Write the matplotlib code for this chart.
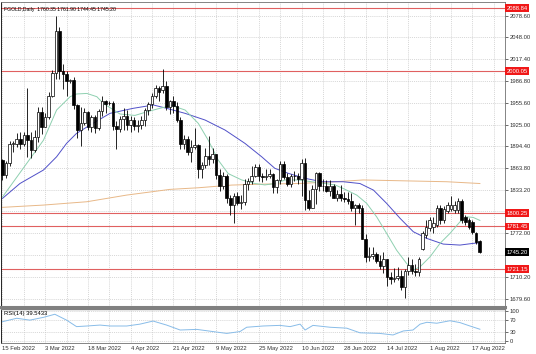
import matplotlib
matplotlib.use("Agg")
import matplotlib.pyplot as plt
from matplotlib.patches import Rectangle
from matplotlib.transforms import blended_transform_factory

# ---------------- data ----------------
opens = [1875,1854,1871,1898,1898,1905,1898,1910,1903,1889,
         1908,1943,1922,1936,1966,1998,2057,2000,1997,1987,
         1988,1952,1918,1927,1943,1921,1936,1920,1944,1958,
         1955,1956,1923,1919,1933,1937,1925,1932,1923,1925,
         1931,1946,1954,1966,1977,1974,1979,1950,1958,1951,
         1932,1898,1905,1887,1894,1896,1863,1868,1881,1877,
         1883,1854,1838,1853,1821,1811,1824,1815,1816,1841,
         1846,1853,1865,1853,1851,1853,1855,1837,1847,1869,
         1851,1841,1852,1853,1848,1871,1819,1808,1834,1857,
         1839,1838,1832,1838,1822,1827,1822,1820,1818,1807,
         1811,1808,1764,1739,1740,1742,1733,1725,1735,1710,
         1708,1709,1711,1696,1718,1727,1719,1717,1750,1769,
         1779,1780,1783,1808,1790,1803,1806,1805,1805,1818,
         1795,1790,1788,1772,1760.35]
highs = [1877,1874,1902,1902,1913,1914,1914,1976,1914,1917,
         1950,1950,1942,1971,2002,2078,2062,2010,2000,1990,
         1992,1954,1950,1948,1944,1939,1938,1947,1966,1960,
         1958,1959,1930,1937,1949,1945,1937,1936,1932,1937,
         1948,1957,1970,1981,1979,2003,1987,1960,1966,1957,
         1936,1911,1909,1904,1920,1898,1873,1892,1909,1892,
         1883,1862,1858,1856,1826,1828,1830,1826,1849,1850,
         1866,1869,1869,1857,1863,1862,1857,1849,1874,1874,
         1857,1856,1860,1857,1876,1878,1833,1840,1858,1858,
         1848,1847,1847,1841,1833,1840,1830,1830,1829,1813,
         1814,1812,1771,1752,1752,1745,1741,1745,1735,1717,
         1723,1724,1720,1721,1739,1736,1728,1739,1775,1790,
         1795,1795,1812,1812,1810,1816,1824,1818,1822,1820,
         1797,1793,1790,1774,1761.90]
lows = [1847,1850,1867,1886,1894,1890,1895,1879,1878,1886,
        1900,1912,1921,1933,1964,1990,1990,1975,1965,1983,
        1947,1906,1895,1924,1917,1915,1913,1918,1937,1942,
        1952,1918,1890,1915,1918,1917,1915,1917,1915,1919,
        1923,1939,1948,1962,1959,1969,1945,1940,1941,1929,
        1891,1890,1882,1872,1890,1850,1850,1864,1868,1871,
        1848,1832,1834,1814,1797,1787,1811,1806,1811,1833,
        1842,1851,1846,1844,1847,1850,1829,1828,1842,1849,
        1838,1837,1846,1842,1825,1805,1805,1807,1813,1832,
        1832,1830,1825,1821,1817,1818,1816,1813,1803,1784,
        1801,1764,1732,1733,1735,1730,1722,1716,1697,1701,
        1703,1706,1692,1680,1713,1715,1711,1711,1748,1765,
        1775,1772,1780,1785,1786,1800,1803,1800,1800,1787,
        1783,1778,1771,1757,1744.45]
closes = [1854,1871,1898,1898,1905,1898,1910,1903,1889,1908,
          1943,1922,1936,1966,1998,2057,2000,1997,1986,1988,
          1952,1918,1927,1943,1921,1936,1920,1944,1958,1954,
          1956,1923,1919,1933,1937,1925,1932,1923,1925,1931,
          1946,1954,1966,1977,1971,1979,1950,1958,1951,1932,
          1898,1905,1887,1894,1896,1863,1868,1881,1877,1883,
          1854,1838,1853,1821,1811,1824,1815,1816,1841,1846,
          1853,1865,1853,1851,1853,1855,1837,1847,1869,1851,
          1841,1852,1853,1848,1871,1819,1808,1834,1857,1839,
          1838,1832,1838,1822,1827,1822,1820,1818,1807,1811,
          1808,1764,1739,1740,1742,1733,1725,1735,1710,1708,
          1709,1711,1696,1718,1727,1719,1717,1735,1772,1781,
          1790,1787,1808,1790,1806,1811,1812,1811,1818,1790,
          1788,1781,1774,1760,1745.20]

ma_fast_x = [0,11.5,15.2,19,20.8,23.7,26.5,28.3,33,37.2,40.5,44.2,47.5,51.3,55,57.8,60.6,63.4,
             67.2,70.9,73.7,76.5,79.4,83.1,86.9,90.6,93.4,95.7,99.5,102.3,105.1,107.9,110.7,
             113.5,115.4,117.3,120.1,122.9,125.7,128.5,130.4,132.2,134.1]
ma_fast_y = [1823,1903,1945.6,1964.4,1968.2,1969,1964.4,1955,1940,1938,1943,1948,1952,1945.6,1926.8,
             1903,1875,1856,1847,1842,1840,1842,1847,1847,1844.5,1842,1840,1835,1825.7,1814,1795,
             1771.7,1748,1729.4,1720,1724.6,1738.7,1757.6,1771.7,1788,1795,1794.2,1790]
ma_mid_x = [0,4.9,11.5,15.2,18,20.8,24.6,30.2,36.7,42.4,46.1,51.3,56.9,62.5,68.1,72.8,76.5,80.3,
            85,89.7,95.7,100.4,104.2,107.9,111.7,115.4,119.2,123.8,128.5,132.2,134.1]
ma_mid_y = [1821,1842,1861,1879.7,1898.6,1912.7,1924.4,1940.9,1948,1952.7,1948,1940.9,1931.5,
            1917.4,1898.6,1879.7,1863.4,1856.3,1849.3,1844.5,1844.5,1842,1832.7,1814,1792.8,1774,
            1764.6,1756.6,1755.2,1757.6,1758.5]
ma_slow_x = [0,11.5,23.7,34.9,47,55,64.4,73.7,83.1,93.4,101.3,115.4,124.8,134.1]
ma_slow_y = [1808.4,1811.6,1816.3,1825.7,1833.7,1836,1839.8,1841.2,1842,1844.5,1847,1845.5,
             1844.5,1842]

rsi_x = [0,4,7.7,11.5,14.7,18,20.8,23.7,27.4,30.2,34.9,38.6,42.3,46.1,49.9,54.6,59.1,63,66.7,
         68.6,73.2,77.9,80.8,83.6,85,87.2,92,96.7,100.4,106,109.7,112.6,115.3,117.3,119.2,122,
         125.7,128.5,131.3,134.1]
rsi_y = [64,75,69,78,88,69,48,50,53,50,50,56,66,53,37,39,32,26,32,46,50,52,48,56,37,52,46,43,
         28,26,21,34,37,56,62,59,67,61,50,39.5433]

level_prices = [2088.84, 2000.05, 1800.25, 1781.45, 1721.15]
level_labels = ["2088.84", "2000.05", "1800.25", "1781.45", "1721.15"]
price_ticks = [2078.60, 2048.00, 2017.40, 1986.80, 1955.60, 1925.00, 1894.40, 1863.80,
               1833.20, 1802.60, 1772.00, 1741.40, 1710.20, 1679.60]
hidden_ticks = [1802.60, 1741.40]   # covered by the price boxes in the reference
date_tick_pos = [0, 12, 24, 36, 48, 60, 72, 84, 96, 108, 120, 132]
date_labels = ["15 Feb 2022", "3 Mar 2022", "18 Mar 2022", "4 Apr 2022", "21 Apr 2022",
               "9 May 2022", "25 May 2022", "10 Jun 2022", "28 Jun 2022", "14 Jul 2022",
               "1 Aug 2022", "17 Aug 2022"]
rsi_ticks = [100, 70, 30, 0]
title_text = "FGOLD,Daily  1760.35 1761.90 1744.45 1745.20"
rsi_title = "RSI(14) 39.5433"
last_price = 1745.20

# ---------------- figure ----------------
plt.rcParams['font.family'] = ['Liberation Sans', 'DejaVu Sans']
FS = 4.2
W, H = 536, 354
fig = plt.figure(figsize=(W / 100, H / 100), dpi=100)

def frac(x0, y0, x1, y1):
    return [x0 / W, 1 - y1 / H, (x1 - x0) / W, (y1 - y0) / H]

ax = fig.add_axes(frac(1, 2, 505, 307))
axr = fig.add_axes(frac(1, 309, 505, 343), sharex=ax)

xl = (-0.42, 141.15)
ax.set_xlim(*xl)
ax.set_ylim(1667.9, 2097.9)
axr.set_ylim(-5, 105)

grid_kw = dict(color='#c8c8c8', lw=0.5, ls=(0, (1.5, 1.5)))
for a in (ax, axr):
    for gx in range(0, 142, 6):
        a.axvline(gx, zorder=0, **grid_kw)
for p in price_ticks:
    ax.axhline(p, zorder=0, **grid_kw)
for r in rsi_ticks:
    axr.axhline(r, zorder=0, **grid_kw)

# levels
for p in level_prices:
    ax.axhline(p, color='#e06060', lw=0.8, zorder=1)

# moving averages
ax.plot(ma_slow_x, ma_slow_y, color='#e8b888', lw=0.7, zorder=2)
ax.plot(ma_mid_x, ma_mid_y, color='#5050c8', lw=0.7, zorder=2)
ax.plot(ma_fast_x, ma_fast_y, color='#8ed0b0', lw=0.7, zorder=2)

# candles
bw = 0.72
for i, (o, h, l, c) in enumerate(zip(opens, highs, lows, closes)):
    ax.plot([i, i], [l, h], color='black', lw=0.6, zorder=3, solid_capstyle='butt')
    lo, hi = min(o, c), max(o, c)
    if hi - lo < 0.8:
        hi = lo + 0.8
    face = 'white' if c >= o else 'black'
    ax.add_patch(Rectangle((i - bw / 2, lo), bw, hi - lo, facecolor=face,
                           edgecolor='black', lw=0.5, zorder=4))

# RSI
axr.plot(rsi_x, rsi_y, color='#88bce8', lw=0.7)

# axes styling
for a in (ax, axr):
    for s in a.spines.values():
        s.set_color('#707070')
        s.set_linewidth(0.6)
ax.spines['bottom'].set_linewidth(2.2)
ax.spines['bottom'].set_color('#808080')
axr.spines['top'].set_linewidth(1.0)
axr.spines['top'].set_color('#808080')
ax.spines['left'].set_color('black')
axr.spines['left'].set_color('black')

ax.yaxis.tick_right()
ax.set_yticks(price_ticks)
ax.set_yticklabels(["" if p in hidden_ticks else f"{p:.2f}" for p in price_ticks])
ax.tick_params(axis='y', labelsize=FS, length=2, width=0.5, pad=1.5, colors='#303030')
ax.tick_params(axis='x', bottom=False, labelbottom=False)

axr.yaxis.tick_right()
axr.set_yticks(rsi_ticks)
axr.set_yticklabels([str(r) for r in rsi_ticks])
axr.tick_params(axis='y', labelsize=FS, length=2, width=0.5, pad=1.5, colors='#303030')
axr.set_xticks(date_tick_pos)
axr.set_xticklabels(date_labels, ha='left')
axr.tick_params(axis='x', labelsize=FS, length=0, pad=2.5, colors='#303030')
axr.set_xlim(*xl)

# right-side price boxes
tr = blended_transform_factory(ax.transAxes, ax.transData)
for p, lab in zip(level_prices, level_labels):
    ax.text(1.003, p, lab, transform=tr, ha='left', va='center', fontsize=FS,
            color='white', zorder=10,
            bbox=dict(boxstyle='square,pad=0.25', fc='#f01818', ec='none'))
ax.text(1.003, last_price, f"{last_price:.2f}", transform=tr, ha='left', va='center',
        fontsize=FS, color='white', zorder=10,
        bbox=dict(boxstyle='square,pad=0.25', fc='black', ec='none'))

ax.text(0.005, 0.985, title_text, transform=ax.transAxes, ha='left', va='top',
        fontsize=3.7, color='black')
axr.text(0.005, 0.93, rsi_title, transform=axr.transAxes, ha='left', va='top',
         fontsize=FS, color='black')

fig.savefig("out.png", dpi=100)
